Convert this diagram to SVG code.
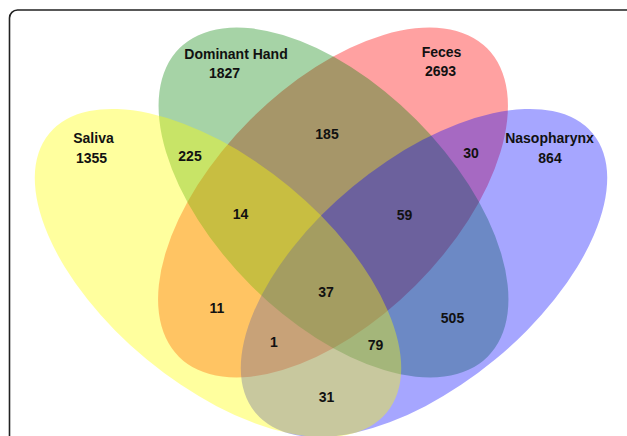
<svg xmlns="http://www.w3.org/2000/svg" width="627" height="436" viewBox="0 0 627 436">
<style>
text{font-family:"Liberation Sans",Arial,sans-serif;font-weight:bold;font-size:14px;fill:#111;text-anchor:middle}
.set{stroke:none}
</style>
<rect x="0" y="0" width="627" height="436" fill="#fff"/>
<rect x="9.5" y="10" width="660" height="500" rx="8" fill="none" stroke="#222" stroke-width="1.6"/>
<g id="feces">
<ellipse class="set" cx="333" cy="202.5" rx="218" ry="117" transform="rotate(-45 333 202.5)" fill="#ff0000" fill-opacity="0.37"/>
</g>
<g id="dominant-hand">
<ellipse class="set" cx="333.5" cy="202.5" rx="218" ry="117" transform="rotate(45 333.5 202.5)" fill="#008000" fill-opacity="0.35"/>
</g>
<g id="nasopharynx">
<ellipse class="set" cx="424" cy="273" rx="219" ry="112" transform="rotate(-39.6 424 273)" fill="#0000ff" fill-opacity="0.35"/>
</g>
<g id="saliva">
<ellipse class="set" cx="218" cy="273" rx="219" ry="112" transform="rotate(39.6 218 273)" fill="#ffff00" fill-opacity="0.38"/>
</g>
<g id="labels">
<text x="236" y="59">Dominant Hand</text>
<text x="224.5" y="78">1827</text>
<text x="441.5" y="57">Feces</text>
<text x="440.5" y="76">2693</text>
<text x="93.5" y="143">Saliva</text>
<text x="91.5" y="163">1355</text>
<text x="549.5" y="143">Nasopharynx</text>
<text x="550" y="163">864</text>
</g>
<g id="regions">
<text x="190" y="161">225</text>
<text x="327" y="139">185</text>
<text x="471" y="158">30</text>
<text x="240.5" y="219">14</text>
<text x="404.5" y="220">59</text>
<text x="217" y="313">11</text>
<text x="326" y="297">37</text>
<text x="452.5" y="323">505</text>
<text x="274" y="347">1</text>
<text x="375.5" y="350">79</text>
<text x="326.5" y="402">31</text>
</g>
</svg>
